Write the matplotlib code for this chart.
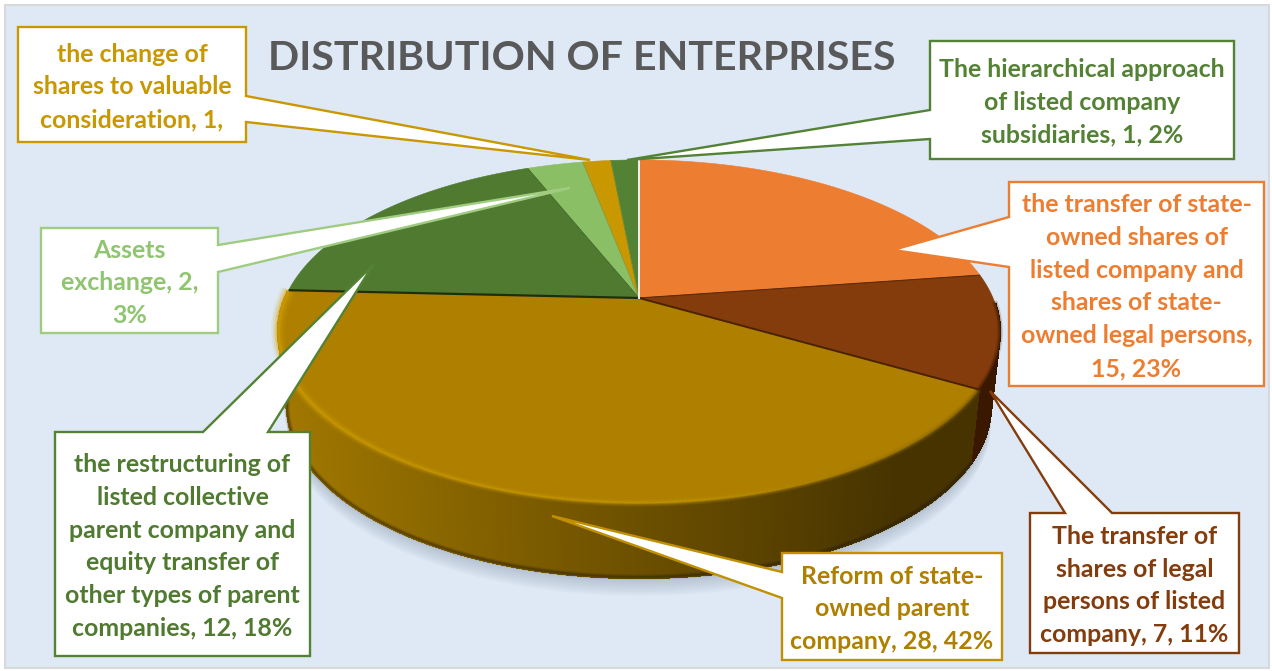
import numpy as np
import matplotlib
matplotlib.use("Agg")
import matplotlib.pyplot as plt
from matplotlib.collections import PolyCollection, LineCollection
from matplotlib.colors import to_rgb
from matplotlib.patches import Polygon, Rectangle

plt.rcParams['font.family'] = ['Lato', 'DejaVu Sans']

TITLE = "DISTRIBUTION OF ENTERPRISES"

# clockwise from twelve o'clock
values = [15, 7, 28, 12, 2, 1, 1]
slice_colors = ['#ED7D31', '#843C0C', '#AF8000', '#4F7A30', '#8ABF66', '#C99700', '#548235']
labels = [
    "the transfer of state-\nowned shares of\nlisted company and\nshares of state-\nowned legal persons,\n15, 23%",
    "The transfer of\nshares of legal\npersons of listed\ncompany, 7, 11%",
    "Reform of state-\nowned parent\ncompany, 28, 42%",
    "the restructuring of\nlisted collective\nparent company and\nequity transfer of\nother types of parent\ncompanies, 12, 18%",
    "Assets\nexchange, 2,\n3%",
    "the change of\nshares to valuable\nconsideration, 1,",
    "The hierarchical approach\nof listed company\nsubsidiaries, 1, 2%",
]
label_colors = ['#ED7D31', '#843C0C', '#AF8000', '#4F7A30', '#8FC56F', '#C99700', '#548235']
line_colors = ['#ED7D31', '#843C0C', '#C09000', '#548235', '#A0CC82', '#C99700', '#548235']

# box (x0, y0, x1, y1), side the pointer leaves from, its two base points, tip
callouts = [
    ((1009, 182, 1264, 386), 'left', (217, 267), (893, 250)),
    ((1030, 513, 1239, 653), 'top', (1065, 1112), (990, 391)),
    ((782, 553, 1002, 660), 'left', (572, 598), (552, 516)),
    ((55, 432, 310, 656), 'top', (203, 268), (373, 265)),
    ((41, 228, 218, 333), 'right', (245, 272), (570, 188)),
    ((18, 27, 246, 142), 'right', (96, 122), (590, 160)),
    ((930, 41, 1234, 159), 'left', (110, 139), (627, 160)),
]

# pie geometry in pixels
CX, CY = 639, 298
RX = 354
RY = 165
PERSP = 0.195
DEPTH = 75
BOTTOM_SHRINK = 0.975


def project(theta, r=1.0):
    # disc point to screen, the back of the disc is squeezed by perspective
    u = r * np.sin(theta)
    t = r * np.cos(theta)
    den = 1 + PERSP * t
    return CX + RX * u / den, CY - RY * t / den


def project_bottom(theta):
    x, y = project(theta)
    return CX + (x - CX) * BOTTOM_SHRINK, y + DEPTH


def mix(c1, c2, f):
    c1, c2 = np.array(to_rgb(c1)), np.array(to_rgb(c2))
    return tuple(c1 + (c2 - c1) * f)


fig = plt.figure(figsize=(12.72, 6.71), dpi=100, facecolor='white')
ax = fig.add_axes([0, 0, 1, 1])
ax.set_xlim(0, 1272)
ax.set_ylim(671, 0)
ax.axis('off')

ax.add_patch(Rectangle((5, 5), 1264, 663, fc='#DEE9F5', ec='#D9D9D9', lw=1.5, zorder=0))

edges = np.radians(np.concatenate([[0], np.cumsum(values)]) / sum(values) * 360)

# soft shadow under the disc
th = np.radians(np.linspace(95, 265, 120))
bx, by = project_bottom(th)
for k in range(1, 10):
    pts = np.r_[np.c_[bx, by - 40], np.c_[bx[::-1], by[::-1] + k * 2.0]]
    ax.add_patch(Polygon(pts, fc='#7F8FA0', ec='none', alpha=0.05, zorder=1))

# side wall, cut into thin strips so the shade can run from left to right
wall_polys, wall_cols = [], []
th = np.radians(np.linspace(92, 272, 361))
for a, b in zip(th[:-1], th[1:]):
    x0, y0 = project(a)
    x1, y1 = project(b)
    x2, y2 = project_bottom(b)
    x3, y3 = project_bottom(a)
    wall_polys.append([(x0, y0), (x1, y1), (x2, y2), (x3, y3)])
    if a < edges[2]:
        wall_cols.append('#3A1800')
    else:
        f = np.clip((x0 - 285) / (900 - 285), 0, 1)
        wall_cols.append(mix('#A07700', '#463300', f))
ax.add_collection(PolyCollection(wall_polys, facecolors=wall_cols, edgecolors=wall_cols, lw=1.0,
                                 antialiased=False, zorder=2))

# darker blurred line along the foot of the wall
bx, by = project_bottom(np.radians(np.linspace(120, 262, 160)))
for w, al in [(4, 0.12), (2.5, 0.18), (1.2, 0.3)]:
    ax.plot(bx, by - 1.0, color='#2A1E00', lw=w, alpha=al, zorder=2)

# top face
for i, col in enumerate(slice_colors):
    th = np.linspace(edges[i], edges[i + 1], 100)
    x, y = project(th)
    pts = np.r_[[[CX, CY]], np.c_[x, y]]
    ax.add_patch(Polygon(pts, fc=col, ec=col, lw=0.4, zorder=3))

# rim bevel, bright on the left and fading into the dark side on the right
th = np.radians(np.linspace(120, 272.7, 240))
x, y = project(th)
segs = [[(x[i], y[i]), (x[i + 1], y[i + 1])] for i in range(len(x) - 1)]
seg_cols, seg_w = [], []
for a in th[:-1]:
    deg = np.degrees(a)
    if deg > 175:
        seg_cols.append(mix('#D6A300', '#C89800', (270 - deg) / 95))
    else:
        seg_cols.append(mix('#C89800', '#7A5A00', (175 - deg) / 55))
    seg_w.append(1.0 + max(deg - 205, 0) / 65)
seg_w = np.array(seg_w)
for scale, al in [(5.5, 0.10), (4.0, 0.16), (2.6, 0.25), (1.4, 0.45)]:
    ax.add_collection(LineCollection(segs, colors=seg_cols, linewidths=seg_w * scale, alpha=al,
                                     capstyle='butt', zorder=4))

x, y = project(np.radians(np.linspace(92, 120, 40)))
for w, al in [(4, 0.2), (2, 0.4)]:
    ax.plot(x, y, color='#3A1800', lw=w, alpha=al, zorder=4)

# seams between the slices
seams = [(edges[1], '#5E2A08', 0.8), (edges[2], '#4A2200', 1.4), (edges[3], '#1E2E10', 1.6),
         (edges[4], '#3F6426', 0.7), (edges[5], '#7C9A4E', 0.5), (edges[6], '#7C8A30', 0.5)]
for ang, col, w in seams:
    x, y = project(ang)
    ax.plot([CX, x], [CY, y], color=col, lw=w, zorder=5, solid_capstyle='butt')
x, y = project(0.0)
ax.plot([CX, x], [CY, y], color='#F2F2F2', lw=1.4, zorder=5)


def callout_path(box, side, base, tip):
    x0, y0, x1, y1 = box
    if side == 'left':
        return [(x0, y0), (x1, y0), (x1, y1), (x0, y1), (x0, base[1]), tip, (x0, base[0])]
    if side == 'right':
        return [(x0, y0), (x1, y0), (x1, base[0]), tip, (x1, base[1]), (x1, y1), (x0, y1)]
    return [(x0, y0), (base[0], y0), tip, (base[1], y0), (x1, y0), (x1, y1), (x0, y1)]


for (box, side, base, tip), text, tcol, lcol in zip(callouts, labels, label_colors, line_colors):
    ax.add_patch(Polygon(callout_path(box, side, base, tip), closed=True, fc='white', ec=lcol,
                         lw=1.7, joinstyle='miter', zorder=6))
    ax.text((box[0] + box[2]) / 2, (box[1] + box[3]) / 2 + 2.5, text, color=tcol, fontsize=17.9,
            fontweight='bold', ha='center', va='center', ma='center', linespacing=1.52, zorder=7)

ax.text(582, 58, TITLE, color='#595959', fontsize=29.6, fontweight='bold', ha='center', va='center', zorder=7)

fig.savefig('out.png', dpi=100)
